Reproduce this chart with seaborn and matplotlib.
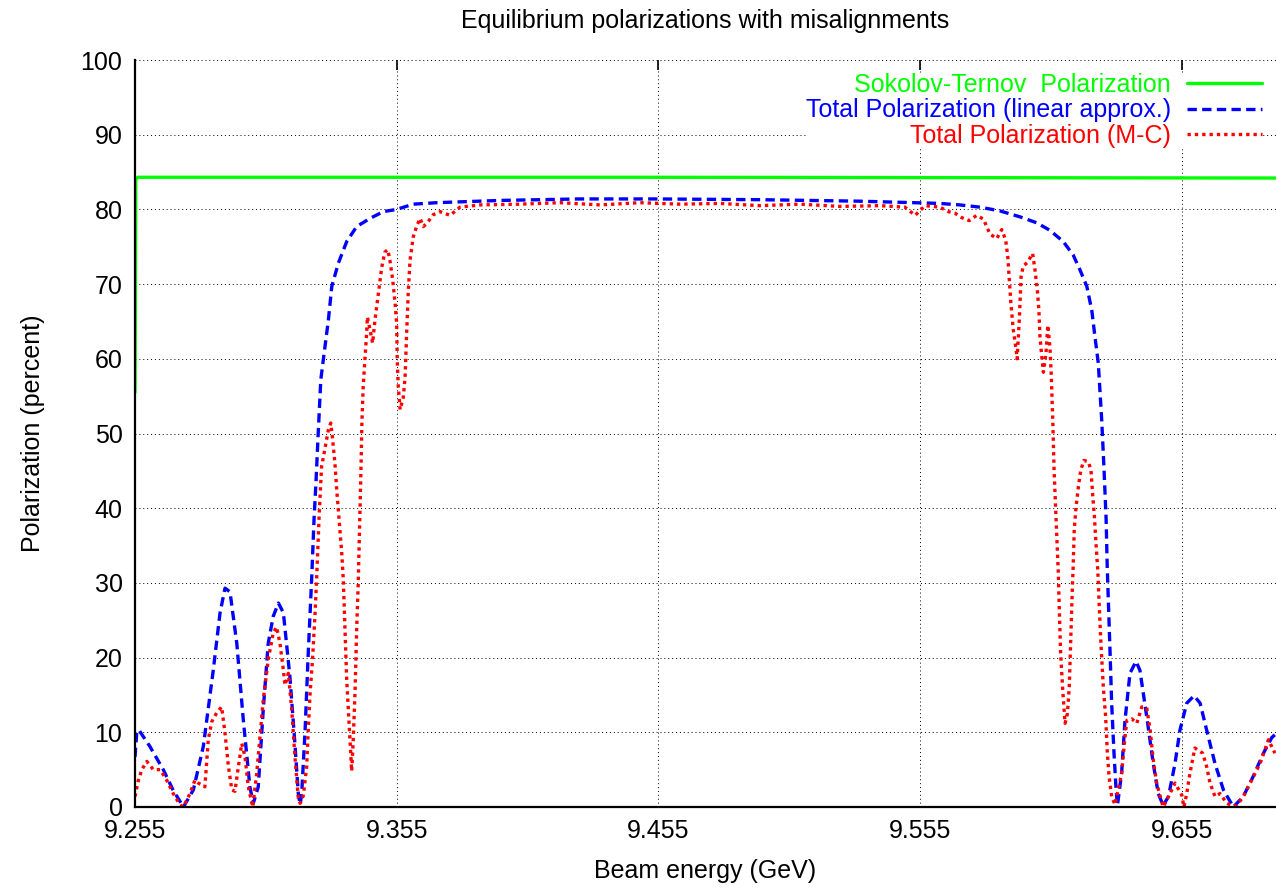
import matplotlib
matplotlib.use("Agg")
import matplotlib.pyplot as plt
import seaborn as sns

# Sokolov-Ternov polarization
st_energy = [9.2550, 9.2553, 9.2560, 9.4500, 9.6910]
st_pol = [55.5, 84.0, 84.3, 84.3, 84.2]

# total polarization, linear approximation
lin_energy = [9.2550, 9.2557, 9.2565, 9.2607, 9.2658, 9.2695, 9.2735, 9.2773, 9.2811, 9.2849,
              9.2875, 9.2894, 9.2913, 9.2939, 9.2964, 9.2989, 9.3002, 9.3021, 9.3040, 9.3059,
              9.3078, 9.3098, 9.3117, 9.3142, 9.3161, 9.3174, 9.3181, 9.3187, 9.3200, 9.3212,
              9.3225, 9.3234, 9.3242, 9.3250, 9.3260, 9.3270, 9.3289, 9.3302, 9.3327, 9.3359,
              9.3397, 9.3448, 9.3499, 9.3550, 9.3613, 9.3703, 9.3945, 9.4247, 9.4545, 9.4938,
              9.5320, 9.5626, 9.5702, 9.5779, 9.5855, 9.5932, 9.5996, 9.6046, 9.6097, 9.6135,
              9.6161, 9.6187, 9.6206, 9.6218, 9.6231, 9.6244, 9.6253, 9.6261, 9.6265, 9.6276,
              9.6282, 9.6291, 9.6299, 9.6304, 9.6320, 9.6333, 9.6352, 9.6375, 9.6390, 9.6416,
              9.6441, 9.6460, 9.6479, 9.6499, 9.6524, 9.6543, 9.6569, 9.6597, 9.6620, 9.6645,
              9.6677, 9.6709, 9.6747, 9.6785, 9.6823, 9.6862, 9.6894, 9.6910]
lin_pol = [6.7, 10.1, 10.3, 8.1, 5.0, 2.3, 0.0, 2.3, 8.1, 18.3,
           26.0, 29.3, 28.8, 21.9, 11.6, 2.7, 0.5, 2.7, 13.0, 21.9,
           25.5, 27.3, 26.0, 17.4, 8.5, 1.8, 0.3, 1.8, 10.3, 20.6,
           30.5, 38.4, 43.8, 50.0, 57.2, 60.0, 65.2, 69.7, 72.8, 75.7,
           77.7, 78.8, 79.7, 80.0, 80.7, 80.9, 81.2, 81.4, 81.4, 81.3,
           81.1, 80.8, 80.6, 80.3, 79.8, 79.0, 78.2, 77.2, 75.7, 73.9,
           71.9, 69.7, 66.5, 63.0, 59.4, 51.8, 45.1, 38.4, 32.2, 20.6,
           13.9, 7.2, 2.3, 0.2, 4.5, 11.6, 17.9, 19.5, 18.3, 12.1,
           5.8, 1.8, 0.2, 1.4, 5.8, 10.3, 13.9, 14.9, 13.9, 10.3,
           5.8, 2.3, 0.0, 1.4, 4.1, 7.2, 9.3, 9.8]

# total polarization, Monte-Carlo
mc_energy = [9.2550, 9.2563, 9.2576, 9.2595, 9.2620, 9.2646, 9.2671, 9.2696, 9.2722, 9.2735,
             9.2760, 9.2779, 9.2792, 9.2817, 9.2830, 9.2843, 9.2862, 9.2881, 9.2894, 9.2907,
             9.2920, 9.2932, 9.2945, 9.2958, 9.2970, 9.2983, 9.3000, 9.3015, 9.3040, 9.3059,
             9.3078, 9.3091, 9.3104, 9.3117, 9.3123, 9.3136, 9.3149, 9.3161, 9.3174, 9.3181,
             9.3193, 9.3206, 9.3212, 9.3219, 9.3229, 9.3238, 9.3244, 9.3254, 9.3263, 9.3276,
             9.3289, 9.3298, 9.3304, 9.3314, 9.3321, 9.3330, 9.3340, 9.3346, 9.3352, 9.3359,
             9.3369, 9.3378, 9.3384, 9.3391, 9.3397, 9.3403, 9.3410, 9.3414, 9.3417, 9.3422,
             9.3426, 9.3435, 9.3438, 9.3448, 9.3458, 9.3467, 9.3480, 9.3493, 9.3505, 9.3516,
             9.3524, 9.3535, 9.3544, 9.3550, 9.3552, 9.3556, 9.3563, 9.3575, 9.3582, 9.3588,
             9.3594, 9.3601, 9.3613, 9.3626, 9.3639, 9.3652, 9.3671, 9.3690, 9.3716, 9.3754,
             9.3792, 9.3868, 9.4021, 9.4174, 9.4327, 9.4480, 9.4633, 9.4785, 9.4938, 9.5091,
             9.5244, 9.5397, 9.5492, 9.5531, 9.5569, 9.5626, 9.5658, 9.5683, 9.5709, 9.5738,
             9.5766, 9.5792, 9.5817, 9.5843, 9.5862, 9.5877, 9.5885, 9.5891, 9.5897, 9.5906,
             9.5917, 9.5921, 9.5929, 9.5936, 9.5944, 9.5960, 9.5980, 9.5989, 9.5998, 9.6004,
             9.6008, 9.6015, 9.6021, 9.6031, 9.6038, 9.6046, 9.6051, 9.6057, 9.6062, 9.6068,
             9.6074, 9.6078, 9.6082, 9.6087, 9.6095, 9.6104, 9.6113, 9.6120, 9.6126, 9.6132,
             9.6135, 9.6139, 9.6146, 9.6155, 9.6164, 9.6176, 9.6193, 9.6203, 9.6210, 9.6216,
             9.6222, 9.6229, 9.6234, 9.6241, 9.6250, 9.6259, 9.6265, 9.6272, 9.6282, 9.6295,
             9.6320, 9.6333, 9.6340, 9.6359, 9.6378, 9.6397, 9.6416, 9.6429, 9.6441, 9.6454,
             9.6473, 9.6479, 9.6505, 9.6524, 9.6550, 9.6558, 9.6569, 9.6581, 9.6600, 9.6630,
             9.6645, 9.6658, 9.6677, 9.6696, 9.6722, 9.6741, 9.6760, 9.6785, 9.6817, 9.6849,
             9.6881, 9.6906]
mc_pol = [1.4, 3.6, 5.0, 6.1, 5.0, 5.0, 3.6, 1.8, 0.3, 0.0,
          1.8, 3.6, 3.2, 2.7, 9.0, 11.4, 12.6, 13.4, 9.9, 5.4,
          2.3, 2.1, 5.4, 8.5, 6.8, 2.7, 0.0, 4.5, 14.3, 19.7,
          23.3, 24.1, 21.9, 18.3, 16.3, 17.9, 13.0, 6.8, 1.2, 0.5,
          1.5, 5.4, 10.3, 15.2, 20.1, 25.9, 30.5, 39.3, 45.6, 48.0,
          50.5, 51.4, 49.6, 46.0, 42.4, 38.4, 34.0, 30.4, 24.1, 17.0,
          10.7, 4.8, 9.0, 15.7, 23.7, 30.0, 40.2, 46.0, 51.4, 56.3,
          58.5, 63.4, 65.6, 63.9, 62.1, 65.2, 68.8, 72.3, 74.3, 74.6,
          73.2, 70.5, 67.4, 64.7, 59.8, 56.3, 53.2, 54.8, 57.5, 63.4,
          68.8, 73.2, 76.3, 77.7, 78.8, 77.7, 78.4, 79.3, 79.7, 79.2,
          80.3, 80.6, 80.7, 80.9, 80.6, 80.9, 80.7, 80.8, 80.5, 80.7,
          80.4, 80.5, 80.3, 79.2, 80.5, 80.3, 79.7, 79.5, 78.9, 78.5,
          79.2, 78.7, 76.7, 76.1, 77.3, 75.9, 73.7, 70.5, 67.4, 63.9,
          61.2, 60.0, 65.2, 71.0, 72.4, 72.9, 74.1, 71.9, 69.2, 66.5,
          63.0, 60.3, 58.2, 60.7, 64.5, 61.6, 58.0, 51.8, 45.1, 39.8,
          34.8, 31.5, 26.4, 20.6, 15.7, 11.2, 12.5, 16.1, 22.8, 29.5,
          32.2, 37.1, 40.2, 42.9, 45.1, 46.4, 46.2, 45.1, 41.5, 38.9,
          35.3, 31.7, 27.3, 21.9, 16.1, 12.1, 7.6, 4.1, 1.4, 0.3,
          4.5, 9.4, 11.6, 11.8, 11.2, 13.4, 13.3, 10.3, 6.3, 3.2,
          0.7, 0.0, 1.8, 3.2, 1.6, 0.0, 1.8, 4.5, 7.9, 7.2,
          5.4, 3.2, 1.4, 1.8, 0.5, 0.2, 0.2, 1.4, 3.6, 5.8,
          9.0, 7.2]

x_ticks = [9.255, 9.355, 9.455, 9.555, 9.655]
x_tick_labels = ["9.255", "9.355", "9.455", "9.555", "9.655"]
y_ticks = list(range(0, 101, 10))

sns.set_theme(style="white", rc={'text.color': 'black', 'axes.labelcolor': 'black',
                                 'xtick.color': 'black', 'ytick.color': 'black'})
plt.rcParams['font.family'] = ['Liberation Sans', 'DejaVu Sans']

fig = plt.figure(figsize=(12.76, 8.89), dpi=100)
ax = fig.add_axes([135 / 1276, 1 - 807 / 889, 1 - 135 / 1276, (807 - 60) / 889])

sns.lineplot(x=st_energy, y=st_pol, ax=ax, color='#00ff00', linewidth=2.4,
             label='Sokolov-Ternov  Polarization', sort=False, estimator=None)
sns.lineplot(x=lin_energy, y=lin_pol, ax=ax, color='#0000ff', linewidth=2.4,
             linestyle=(0, (2.8, 1.6)), label='Total Polarization (linear approx.)',
             sort=False, estimator=None)
sns.lineplot(x=mc_energy, y=mc_pol, ax=ax, color='#ff0000', linewidth=2.4,
             linestyle=(0, (1.0, 1.2)), label='Total Polarization (M-C)',
             sort=False, estimator=None)

ax.set_xlim(9.255, 9.691)
ax.set_ylim(0, 100)
ax.set_xticks(x_ticks)
ax.set_xticklabels(x_tick_labels)
ax.set_yticks(y_ticks)
ax.grid(True, color='black', linestyle=(0, (1, 3)), linewidth=0.7)

ax.spines['top'].set_visible(False)
ax.spines['right'].set_visible(False)
for s in ['left', 'bottom']:
    ax.spines[s].set_color('black')
    ax.spines[s].set_linewidth(1.6)
ax.tick_params(axis='both', direction='in', length=7, width=1.2, colors='black',
               labelsize=18, pad=9, top=True, right=False)

ax.set_xlabel('Beam energy (GeV)', fontsize=18, labelpad=11, color='black')
ax.set_ylabel('Polarization (percent)', fontsize=18, labelpad=26, color='black')
ax.set_title('Equilibrium polarizations with misalignments', fontsize=18, pad=23,
             color='black')

leg = ax.legend(loc='upper right', bbox_to_anchor=(1262 / 1276, 1 - 73 / 889),
                bbox_transform=fig.transFigure, fontsize=18, markerfirst=False,
                handlelength=3.0, handletextpad=0.64, labelspacing=0.05,
                borderpad=0.0, borderaxespad=0.0, frameon=True, fancybox=False,
                framealpha=1.0, facecolor='white', edgecolor='none')
for col in leg._legend_handle_box.get_children():
    col.align = 'right'
for t, c in zip(leg.get_texts(), ['#00ff00', '#0000ff', '#ff0000']):
    t.set_color(c)

fig.savefig('out.png', dpi=100)
